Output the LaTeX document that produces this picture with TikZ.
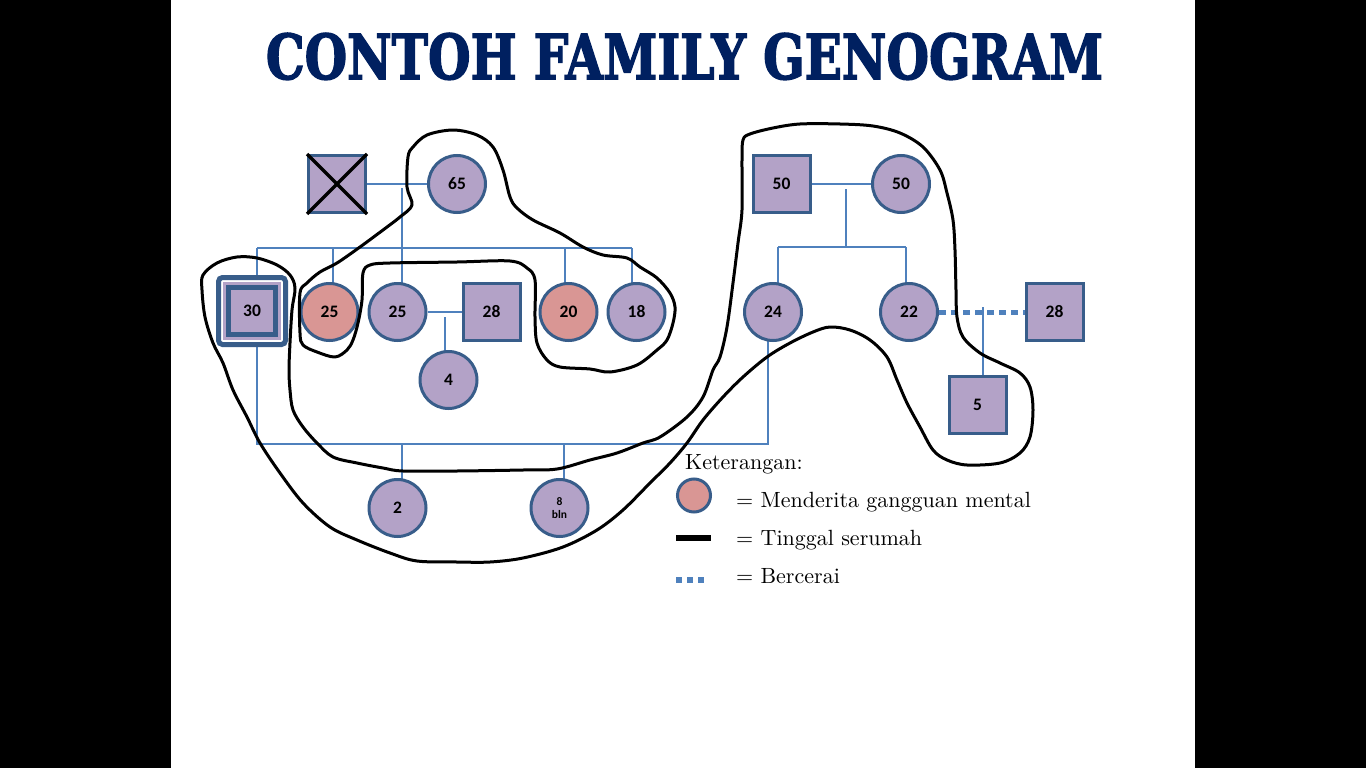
\documentclass[tikz,border=0pt]{standalone}
\usepackage{fontspec}
\usepackage{graphicx}
\usetikzlibrary{backgrounds}
\pgfdeclarelayer{bottom}
\pgfsetlayers{bottom,background,main}
\newfontfamily\nodefont{Carlito}
\newfontfamily\titlefont{DejaVu Serif}[BoldFeatures={FakeBold=2.5}]
\newfontfamily\legendfont{lmroman10-regular.otf}
\definecolor{navy}{RGB}{0,32,96}
\definecolor{lilac}{RGB}{179,162,199}
\definecolor{rose}{RGB}{217,150,148}
\definecolor{edgeblue}{RGB}{56,93,138}
\definecolor{linkblue}{RGB}{79,129,189}
\tikzset{
  person/.style={draw=edgeblue, line width=3pt, fill=lilac, inner sep=0pt,
    font=\nodefont\bfseries\fontsize{17.5}{19}\selectfont},
  female/.style={person, circle, minimum size=57pt},
  male/.style={person, rectangle, minimum size=57pt},
  ill/.style={fill=rose},
  link/.style={draw=linkblue, line width=1.1pt},
  divorce/.style={draw=linkblue, line width=5pt, dash pattern=on 7pt off 5pt},
  house/.style={draw=black, line width=3pt, line join=round},
  legtext/.style={anchor=base west, inner sep=0pt, font=\legendfont\fontsize{22}{26}\selectfont}
}
\begin{document}
\begin{tikzpicture}[x=1pt,y=-1pt]
\useasboundingbox (0,0) rectangle (1366,768);
\begin{pgfonlayer}{bottom}
\fill[black] (0,0) rectangle (1366,768);
\fill[white] (171,0) rectangle (1195,768);
\end{pgfonlayer}

% title
\node[anchor=base, inner sep=0pt, text=navy] (title) at (684.5,79)
  {\resizebox{837pt}{46pt}{\titlefont\bfseries CONTOH FAMILY GENOGRAM}};

% persons
\node[male] (gf) at (337,184) {};
\draw[black, line width=3.5pt] (gf.north west) -- (gf.south east);
\draw[black, line width=3.5pt] (gf.north east) -- (gf.south west);
\node[female] (gm) at (457,184) {65};

\node[draw=edgeblue, line width=5pt, fill=white, rounded corners=4pt, minimum size=67pt, inner sep=0pt] (m30o) at (252,311) {};
\node[fill=lilac, minimum size=58pt, inner sep=0pt] (m30p) at (252,311) {};
\node[male, line width=5pt, minimum size=47pt] (m30) at (252,311) {30};

\node[female, ill] (a25) at (329.5,312) {25};
\node[female] (b25) at (397.5,312) {25};
\node[male] (h28) at (491.5,312) {28};
\node[female, ill] (c20) at (568.5,312) {20};
\node[female] (d18) at (636.5,312) {18};
\node[female] (k4) at (448.5,380) {4};
\node[female] (k2) at (397.5,508) {2};
\node[female, align=center, font=\nodefont\bfseries\fontsize{11.5}{13.5}\selectfont] (k8) at (559.5,508) {8\\bln};

\node[male] (f50) at (781.5,184) {50};
\node[female] (w50) at (901,184) {50};
\node[female] (e24) at (773,312) {24};
\node[female] (g22) at (909,312) {22};
\node[male] (x28) at (1054.5,312) {28};
\node[male] (s5) at (977.5,405) {5};

% connectors
\coordinate (gpdrop) at (402,188);
\coordinate (gpbar) at (402,248);
\coordinate (sibL) at (257,248);
\coordinate (sibR) at (632,248);
\coordinate (j25a) at (333,248);
\coordinate (j20) at (565,248);
\coordinate (j4) at (445,317);
\coordinate (jm30) at (257,444);
\coordinate (jm24) at (768,444);
\coordinate (j2) at (402,444);
\coordinate (j8) at (564,444);
\coordinate (pdrop) at (846,189);
\coordinate (pbar) at (846,247);
\coordinate (sib2L) at (778,247);
\coordinate (sib2R) at (906,247);
\coordinate (j5) at (983,307);
\begin{pgfonlayer}{background}
\draw[link] (gf) -- (gm);
\draw[link] (gpdrop) -- (gpbar);
\draw[link] (sibL) -- (sibR);
\draw[link] (sibL) -- (sibL |- m30o.center);
\draw[link] (j25a) -- (j25a |- a25.center);
\draw[link] (gpbar) -- (gpbar |- b25.center);
\draw[link] (j20) -- (j20 |- c20.center);
\draw[link] (sibR) -- (sibR |- d18.center);
\draw[link] (b25) -- (h28);
\draw[link] (j4) -- (j4 |- k4.center);
\draw[link] (jm30 |- m30o.center) -- (jm30) -- (jm24) -- (jm24 |- e24.center);
\draw[link] (j2) -- (j2 |- k2.center);
\draw[link] (j8) -- (j8 |- k8.center);
\draw[link] (f50) -- (w50);
\draw[link] (pdrop) -- (pbar);
\draw[link] (sib2L) -- (sib2R);
\draw[link] (sib2L) -- (sib2L |- e24.center);
\draw[link] (sib2R) -- (sib2R |- g22.center);
\draw[link] (j5) -- (j5 |- s5.center);
\end{pgfonlayer}
\draw[divorce] (g22.east) -- (x28.west);

% household outlines
\draw[house] plot[smooth cycle, tension=0.55] coordinates {
(408,157) (413,147) (427,135) (453,130) (477,135) (493,147) (503,170) (510,197)
(517,208) (533,220) (560,233) (583,247) (603,255) (627,258) (640,267)
(657,278) (670,293) (675,307) (673,323) (667,340) (657,350) (637,365) (610,372)
(590,369) (560,367) (547,360) (537,343) (535,317) (535,280) (527,268) (510,261)
(457,262) (390,263) (370,265) (363,273) (362,300) (358,323) (353,340) (347,350)
(335,357) (317,352) (303,345) (300,333) (300,293) (307,283) (320,272) (337,263)
(360,247) (383,230) (400,217) (412,205) (407,187)};

\draw[house] plot[smooth cycle, tension=0.55] coordinates {
(203,275) (217,263) (237,257) (257,258) (277,265) (290,275) (295,288) (292,310)
(290,343) (289,370) (290,390) (293,410) (303,427) (317,443) (333,457) (357,463)
(383,468) (403,471) (457,471) (523,470) (557,469) (590,460) (617,453) (643,443)
(660,437) (687,417) (703,397) (713,370) (720,357) (727,327) (733,283) (738,243)
(742,210) (742,160) (743,140) (750,134) (773,128) (800,124) (840,124) (873,126)
(900,133) (923,147) (940,170) (947,193) (953,220) (955,250) (956,290) (957,317)
(963,337) (980,353) (1000,363) (1020,373) (1030,387) (1033,410) (1030,437)
(1020,453) (1000,463) (967,465) (947,460) (933,450) (920,427) (907,403) (897,380)
(887,357) (870,340) (850,330) (830,327) (813,332) (790,343) (767,357) (743,377)
(723,397) (703,420) (687,443) (670,463) (650,483) (623,510) (597,530) (563,547)
(523,558) (490,562) (457,562) (417,561) (390,553) (357,540) (330,527) (303,503)
(280,473) (260,443) (247,417) (233,390) (223,363) (213,343) (205,317) (202,290)};

% legend
\node[legtext] (lgT) at (685,469) {Keterangan:};
\node[circle, draw=edgeblue, line width=3pt, fill=rose, minimum size=33pt, inner sep=0pt] (lgC) at (694,495.5) {};
\node[legtext] (lg1) at (736,507) {= Menderita gangguan mental};
\coordinate (lgBa) at (676,538);
\coordinate (lgBb) at (711,538);
\draw[black, line width=6pt] (lgBa) -- (lgBb);
\node[legtext] (lg2) at (736,545) {= Tinggal serumah};
\coordinate (lgDa) at (676,580);
\coordinate (lgDb) at (707,580);
\draw[draw=linkblue, line width=6pt, dash pattern=on 6pt off 5pt] (lgDa) -- (lgDb);
\node[legtext] (lg3) at (736,583) {= Bercerai};
\end{tikzpicture}
\end{document}
